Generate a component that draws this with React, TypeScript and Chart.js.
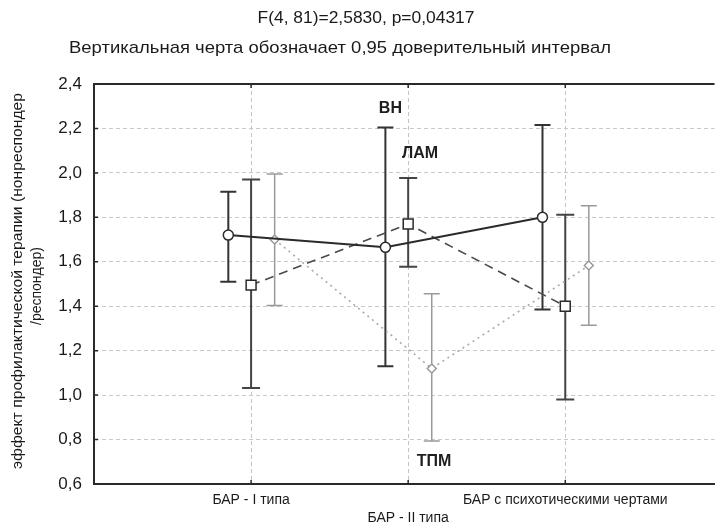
import React, { useEffect, useRef } from 'react';
import { Chart, registerables } from 'chart.js';

Chart.register(...registerables);

// ---- data ----
const categories = ['БАР - I типа', 'БАР - II типа', 'БАР с психотическими чертами'];
const seriesNames = ['ВН', 'ЛАМ', 'ТПМ'];

const vnMean = [1.72, 1.665, 1.8];
const vnLower = [1.51, 1.13, 1.385];
const vnUpper = [1.915, 2.204, 2.215];

const lamMean = [1.495, 1.77, 1.4];
const lamLower = [1.032, 1.578, 0.98];
const lamUpper = [1.97, 1.977, 1.812];

const tpmMean = [1.7, 1.12, 1.583];
const tpmLower = [1.403, 0.794, 1.314];
const tpmUpper = [1.995, 1.456, 1.852];

const yTickValues = [0.6, 0.8, 1.0, 1.2, 1.4, 1.6, 1.8, 2.0, 2.2, 2.4];

const titleText = 'F(4, 81)=2,5830, p=0,04317';
const subtitleText = 'Вертикальная черта обозначает 0,95 доверительный интервал';
const yAxisTitleLines = ['эффект профилактической терапии (нонреспондер', '/респондер)'];

const annotationTexts = ['ВН', 'ЛАМ', 'ТПМ'];
const annotationX = [1.887, 2.075, 2.164];
const annotationY = [2.288, 2.086, 0.703];

// ---- styles ----
const FONT = '"Liberation Sans", Arial, sans-serif';
const seriesOffset = [-0.145, 0, 0.15];
const seriesStyle = [
  { color: '#2a2a2a', width: 2, dash: [] as number[], point: 'circle', radius: 5, ebColor: '#333333', ebWidth: 2, cap: 8 },
  { color: '#4a4a4a', width: 1.6, dash: [9, 6], point: 'rect', radius: 7, ebColor: '#444444', ebWidth: 2, cap: 9 },
  { color: '#a8a8a8', width: 1.6, dash: [2, 4], point: 'rectRot', radius: 4.5, ebColor: '#9a9a9a', ebWidth: 1.5, cap: 8 },
];

const means = [vnMean, lamMean, tpmMean];
const lowers = [vnLower, lamLower, tpmLower];
const uppers = [vnUpper, lamUpper, tpmUpper];

function drawFitted(ctx: CanvasRenderingContext2D, text: string, cx: number, cy: number, font: string, targetWidth: number) {
  ctx.save();
  ctx.font = font;
  const w = ctx.measureText(text).width;
  const sx = targetWidth / w;
  ctx.translate(cx, cy);
  ctx.scale(sx, 1);
  ctx.textAlign = 'center';
  ctx.textBaseline = 'middle';
  ctx.fillText(text, 0, 0);
  ctx.restore();
}

const decorPlugin = {
  id: 'decor',
  beforeDatasetsDraw(chart: any) {
    const ctx: CanvasRenderingContext2D = chart.ctx;
    const xs = chart.scales.x;
    const ys = chart.scales.y;
    const area = chart.chartArea;
    // error bars
    means.forEach((_, si) => {
      const st = seriesStyle[si];
      ctx.save();
      ctx.strokeStyle = st.ebColor;
      ctx.lineWidth = st.ebWidth;
      ctx.setLineDash([]);
      for (let i = 0; i < categories.length; i++) {
        const px = xs.getPixelForValue(i + 1 + seriesOffset[si]);
        const pLo = ys.getPixelForValue(lowers[si][i]);
        const pHi = ys.getPixelForValue(uppers[si][i]);
        ctx.beginPath();
        ctx.moveTo(px, pLo);
        ctx.lineTo(px, pHi);
        ctx.moveTo(px - st.cap, pLo);
        ctx.lineTo(px + st.cap, pLo);
        ctx.moveTo(px - st.cap, pHi);
        ctx.lineTo(px + st.cap, pHi);
        ctx.stroke();
      }
      ctx.restore();
    });
    // inner tick marks
    ctx.save();
    ctx.strokeStyle = '#2a2a2a';
    ctx.lineWidth = 1.5;
    ctx.beginPath();
    yTickValues.forEach((v) => {
      const py = ys.getPixelForValue(v);
      ctx.moveTo(area.left, py);
      ctx.lineTo(area.left + 4, py);
    });
    for (let i = 0; i < categories.length; i++) {
      const px = xs.getPixelForValue(i + 1);
      ctx.moveTo(px, area.bottom);
      ctx.lineTo(px, area.bottom - 4);
      ctx.moveTo(px, area.top);
      ctx.lineTo(px, area.top + 4);
    }
    ctx.stroke();
    // top frame line
    ctx.lineWidth = 2;
    ctx.beginPath();
    ctx.moveTo(area.left, area.top);
    ctx.lineTo(area.right, area.top);
    ctx.stroke();
    ctx.restore();
  },
  afterDraw(chart: any) {
    const ctx: CanvasRenderingContext2D = chart.ctx;
    const xs = chart.scales.x;
    const ys = chart.scales.y;
    const area = chart.chartArea;
    ctx.save();
    ctx.fillStyle = '#1a1a1a';
    drawFitted(ctx, titleText, 366, 18, `17px ${FONT}`, 217);
    drawFitted(ctx, subtitleText, 340, 48, `17px ${FONT}`, 542);
    // y axis title (rotated)
    const cy = (area.top + area.bottom) / 2 - 3;
    ctx.save();
    ctx.translate(18, cy);
    ctx.rotate(-Math.PI / 2);
    drawFitted(ctx, yAxisTitleLines[0], 0, 0, `15px ${FONT}`, 376);
    ctx.restore();
    ctx.save();
    ctx.translate(37, cy + 5);
    ctx.rotate(-Math.PI / 2);
    drawFitted(ctx, yAxisTitleLines[1], 0, 0, `15px ${FONT}`, 78);
    ctx.restore();
    // annotations
    ctx.font = `bold 16px ${FONT}`;
    ctx.textAlign = 'center';
    ctx.textBaseline = 'middle';
    ctx.fillStyle = '#1e1e1e';
    annotationTexts.forEach((t, i) => {
      ctx.fillText(t, xs.getPixelForValue(annotationX[i]), ys.getPixelForValue(annotationY[i]));
    });
    ctx.restore();
  },
};

export default function App() {
  const ref = useRef<HTMLCanvasElement | null>(null);
  useEffect(() => {
    if (!ref.current) return;
    const datasets = means.map((m, si) => {
      const st = seriesStyle[si];
      return {
        label: seriesNames[si],
        data: m.map((v, i) => ({ x: i + 1 + seriesOffset[si], y: v })),
        borderColor: st.color,
        borderWidth: st.width,
        borderDash: st.dash,
        backgroundColor: '#ffffff',
        pointStyle: st.point,
        pointRadius: st.radius,
        pointBorderWidth: 1.5,
        pointBorderColor: si === 2 ? '#9a9a9a' : '#2a2a2a',
        pointBackgroundColor: '#ffffff',
        fill: false,
        tension: 0,
      };
    });
    const chart = new Chart(ref.current, {
      type: 'line',
      data: { datasets },
      options: {
        animation: false,
        responsive: false,
        devicePixelRatio: 1,
        layout: { padding: { top: 84, right: 0, bottom: 0, left: 0 } },
        plugins: { legend: { display: false }, tooltip: { enabled: false }, title: { display: false } },
        scales: {
          x: {
            type: 'linear',
            min: 0,
            max: 3.95,
            afterBuildTicks: (scale: any) => {
              scale.ticks = categories.map((_, i) => ({ value: i + 1 }));
            },
            afterFit: (scale: any) => {
              scale.height = 45;
            },
            ticks: {
              autoSkip: false,
              maxRotation: 0,
              padding: 7,
              color: '#1a1a1a',
              font: { family: FONT, size: 14, lineHeight: 1.3 },
              callback: (v: any) => {
                const i = Math.round(v) - 1;
                const label = categories[i] ?? '';
                return i % 2 === 1 ? ['', label] : label;
              },
            },
            grid: {
              color: '#c4c4c4',
              lineWidth: 1,
              drawTicks: false,
            },
            border: { display: true, color: '#2a2a2a', width: 2, dash: [4, 3] as any },
          },
          y: {
            min: 0.6,
            max: 2.4,
            afterBuildTicks: (scale: any) => {
              scale.ticks = yTickValues.map((v) => ({ value: v }));
            },
            afterFit: (scale: any) => {
              scale.width = 94;
            },
            ticks: {
              padding: 12,
              color: '#1a1a1a',
              font: { family: FONT, size: 17 },
              callback: (v: any) => Number(v).toFixed(1).replace('.', ','),
            },
            grid: {
              color: '#c8c8c8',
              lineWidth: 1,
              drawTicks: false,
            },
            border: { display: true, color: '#2a2a2a', width: 2, dash: [4, 3] as any },
          },
        },
      } as any,
      plugins: [decorPlugin],
    });
    return () => chart.destroy();
  }, []);
  return (
    <div style={{ position: 'fixed', left: 0, top: 0, width: 723, height: 529, background: '#ffffff' }}>
      <canvas ref={ref} width={723} height={529} style={{ display: 'block' }} />
    </div>
  );
}
